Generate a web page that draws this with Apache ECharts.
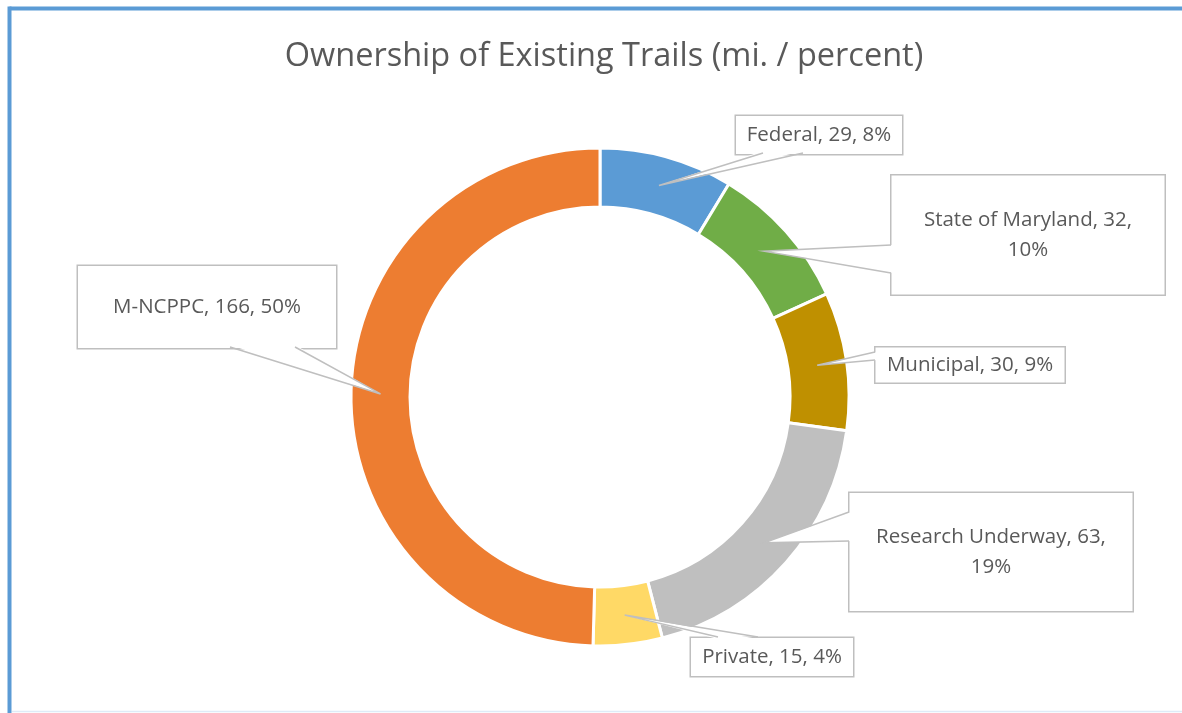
<!DOCTYPE html>
<html>
<head>
<meta charset="utf-8">
<script src="https://cdn.jsdelivr.net/npm/echarts@6/dist/echarts.min.js"></script>
<style>
  html, body { margin: 0; padding: 0; background: #ffffff; }
  #chart { width: 1182px; height: 713px; }
</style>
</head>
<body>
<div id="chart"></div>
<script>
// ---- data ----
var categories = ['Federal', 'State of Maryland', 'Municipal', 'Research Underway', 'Private', 'M-NCPPC'];
var miles = [29, 32, 30, 63, 15, 166];
var percentLabels = ['8%', '10%', '9%', '19%', '4%', '50%'];
var labelBreaks = [' ', '\n', ' ', '\n', ' ', ' '];

// ---- styles / layout ----
var colors = ['#5B9BD5', '#70AD47', '#BF9000', '#BFBFBF', '#FFD966', '#ED7D31'];
// label box centre (x, y), box width, box height
var labelBoxes = [
  [819, 134, 168, 38],
  [1028, 234, 275, 119],
  [970, 364, 191, 35],
  [991, 551, 285, 118],
  [772, 656, 164, 38],
  [207, 306, 260, 82]
];
// callout wedge base points on the box edge: [x1, y1, x2, y2, inward dx, inward dy]
var wedgeBases = [
  [763, 153, 803, 153, 0, -2],
  [891, 245, 891, 273, 2, 0],
  [875, 352, 875, 360, 2, 0],
  [849, 512, 849, 541, 2, 0],
  [718, 637, 758, 637, 0, 2],
  [230, 347, 295, 347, 0, -2]
];
var LINE_H = 30;
var FONT = 'Open Sans';

var data = categories.map(function (name, i) {
  var box = labelBoxes[i];
  var lines = labelBreaks[i] === '\n' ? 2 : 1;
  var padV = Math.max(0, (box[3] - lines * LINE_H) / 2);
  return {
    name: name,
    value: miles[i],
    itemStyle: { color: colors[i] },
    label: {
      width: box[2] - 2,
      padding: [padV, 0, padV, 0]
    }
  };
});

var frame = [
  { id: 'fTop', type: 'line', shape: { x1: 9.5, y1: 8.5, x2: 1182, y2: 8.5 }, style: { stroke: '#5B9BD5', lineWidth: 4 } },
  { id: 'fLeft', type: 'line', shape: { x1: 9.5, y1: 6.5, x2: 9.5, y2: 713 }, style: { stroke: '#5B9BD5', lineWidth: 4 } },
  { id: 'fBottom', type: 'line', shape: { x1: 12, y1: 711.5, x2: 1182, y2: 711.5 }, style: { stroke: '#DEEBF7', lineWidth: 1.5 } }
];

var chart = echarts.init(document.getElementById('chart'), null, { renderer: 'canvas' });
chart.setOption({
  backgroundColor: '#ffffff',
  animation: false,
  title: {
    text: 'Ownership of Existing Trails (mi. / percent)',
    left: 599,
    textAlign: 'center',
    top: 35,
    textStyle: {
      fontFamily: FONT,
      fontSize: 32.5,
      fontWeight: 'normal',
      color: '#595959'
    }
  },
  graphic: frame,
  series: [{
    type: 'pie',
    center: [600, 397],
    radius: [190, 249],
    startAngle: 90,
    clockwise: true,
    avoidLabelOverlap: false,
    data: data,
    itemStyle: { borderColor: '#ffffff', borderWidth: 3 },
    label: {
      show: true,
      formatter: function (p) {
        return p.name + ', ' + p.value + ',' + labelBreaks[p.dataIndex] + percentLabels[p.dataIndex];
      },
      fontFamily: FONT,
      fontSize: 20.5,
      lineHeight: LINE_H,
      color: '#595959',
      align: 'center',
      backgroundColor: '#ffffff',
      borderColor: '#BFBFBF',
      borderWidth: 1.5
    },
    labelLine: { show: false },
    labelLayout: function (params) {
      var box = labelBoxes[params.dataIndex];
      return { x: box[0], y: box[1] + 1, align: 'center', verticalAlign: 'middle' };
    }
  }]
});

// callout wedges: tip at the middle of each ring segment, taken from the pie's own layout
var pieData = chart.getModel().getSeriesByIndex(0).getData();
var wedges = [];
for (var i = 0; i < categories.length; i++) {
  var lay = pieData.getItemLayout(i);
  var mid = (lay.startAngle + lay.endAngle) / 2;
  var rm = (lay.r + lay.r0) / 2;
  var tx = lay.cx + Math.cos(mid) * rm;
  var ty = lay.cy + Math.sin(mid) * rm;
  var b = wedgeBases[i];
  wedges.push({
    id: 'wf' + i, type: 'polygon', z: 100,
    shape: { points: [[b[0] + b[4], b[1] + b[5]], [tx, ty], [b[2] + b[4], b[3] + b[5]]] },
    style: { fill: '#ffffff', stroke: null }
  });
  wedges.push({
    id: 'wl' + i, type: 'polyline', z: 101,
    shape: { points: [[b[0], b[1]], [tx, ty], [b[2], b[3]]] },
    style: { fill: null, stroke: '#BFBFBF', lineWidth: 1.5 }
  });
}
chart.setOption({ graphic: frame.concat(wedges) });
</script>
</body>
</html>
